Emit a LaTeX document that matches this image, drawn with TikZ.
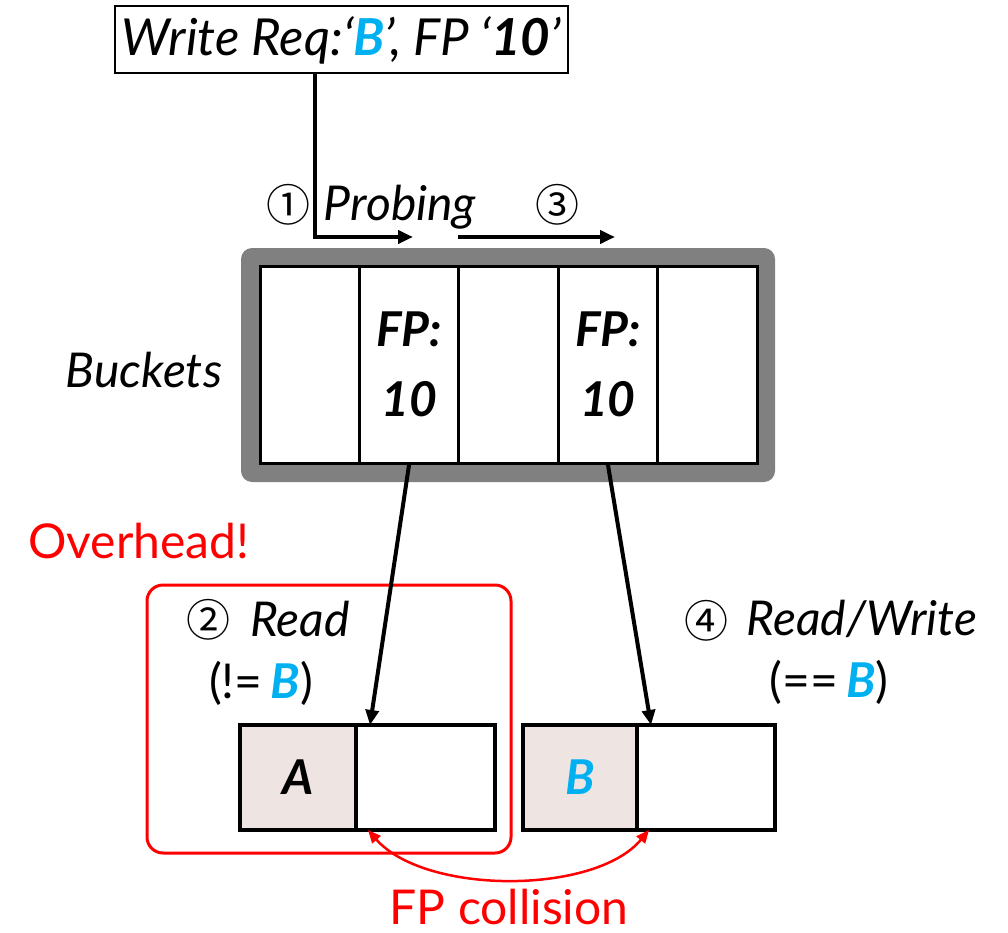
\documentclass[tikz,border=0pt]{standalone}
\usepackage{fontspec}
\setmainfont{Lato}
\newfontfamily\circfont{Noto Sans CJK JP}
\usetikzlibrary{arrows.meta,calc}
\definecolor{keyblue}{HTML}{00B0F0}
\definecolor{rimgray}{HTML}{808080}
\definecolor{slotpink}{HTML}{EEE4E2}
\definecolor{alertred}{HTML}{FF0000}
\newcommand{\bigfont}{\fontsize{48}{56}\selectfont}
\begin{document}
\begin{tikzpicture}[x=1pt,y=-1pt,
  txt/.style={inner sep=0pt, anchor=base, font=\bigfont},
  itxt/.style={inner sep=0pt, anchor=base, font=\bigfont\itshape},
  circ/.style={inner sep=0pt, font=\fontsize{44}{50}\selectfont\circfont},
  cell/.style={draw, line width=3pt, minimum width=99.4pt, minimum height=197pt,
               inner sep=0pt, fill=white, align=center,
               font=\fontsize{48}{70}\selectfont\bfseries\itshape},
  slot/.style={draw, line width=3.5pt, minimum height=105pt, inner sep=0pt, outer sep=0pt,
               font=\fontsize{48}{52}\selectfont\bfseries\itshape},
  flow/.style={line width=4pt, -{Triangle[length=15pt,width=13pt]}},
  clash/.style={alertred, line width=2.5pt,
                {Triangle[length=13pt,width=11pt]}-{Triangle[length=13pt,width=11pt]}}
]
\useasboundingbox (0,0) rectangle (1008,933);

% incoming write request
\node[draw, line width=2pt, minimum width=453pt, minimum height=67pt, inner sep=0pt,
      font=\fontsize{51}{56}\selectfont\itshape] (req) at (341.5,40)
  {Write Req:‘{\bfseries\color{keyblue}B}’, FP ‘{\bfseries 10}’};

% probing steps
\coordinate (turn) at (315,237);
\coordinate (p1) at (413,237);
\coordinate (p3a) at (458,237);
\coordinate (p3b) at (615,237);
\draw[flow] (req.south -| turn) -- (turn) -- (p1);
\draw[flow] (p3a) -- (p3b);
\node[circ] (s1) at (288,205) {①};
\node[itxt] (probing) at (400,221) {Probing};
\node[circ] (s3) at (557,205) {③};

% bucket array
\node[itxt] (bucketlbl) at (144,387) {Buckets};
\draw[fill=rimgray, draw=none, rounded corners=11pt] (241,248) rectangle (775,482);
\node[cell] (c1) at (309.7,364.5) {};
\node[cell] (c2) at (409.1,364.5) {FP:\\10};
\node[cell] (c3) at (508.5,364.5) {};
\node[cell] (c4) at (607.9,364.5) {FP:\\10};
\node[cell] (c5) at (707.3,364.5) {};

% overhead frame
\node[txt, text=alertred] (over) at (139,558) {Overhead!};
\node[draw=alertred, line width=3pt, rounded corners=16pt, minimum width=364pt,
      minimum height=268pt, inner sep=0pt] (frame) at (329,719) {};
\node[circ] (s2) at (208,620) {②};
\node[itxt] (rd) at (300,636) {Read};
\node[txt] (ne) at (261,698) {(!=\,{\bfseries\itshape\color{keyblue}B})};

% key/value slots
\node[slot, fill=slotpink, minimum width=116pt] (a1) at (298,777.5) {A};
\node[slot, fill=white, minimum width=139pt, anchor=west] (a2) at (a1.east) {};
\node[slot, fill=slotpink, minimum width=114pt, text=keyblue] (b1) at (580,777.5) {B};
\node[slot, fill=white, minimum width=138pt, anchor=west] (b2) at (b1.east) {};

\node[circ] (s4) at (706,621) {④};
\node[itxt] (rw) at (862,635) {Read/Write};
\node[txt] (eq) at (829,697) {(==\,{\bfseries\itshape\color{keyblue}B})};

% fingerprint lookups
\draw[flow] (c2.south) -- ([xshift=14pt]a2.north west);
\draw[flow] (c4.south) -- ([xshift=14pt]b2.north west);

% collision between the two slots
\draw[clash] ([xshift=12pt]a2.south west) .. controls (425,895) and (595,895) .. ([xshift=12pt]b2.south west);
\node[txt, text=alertred] (coll) at (509,924) {FP collision};
\end{tikzpicture}
\end{document}
